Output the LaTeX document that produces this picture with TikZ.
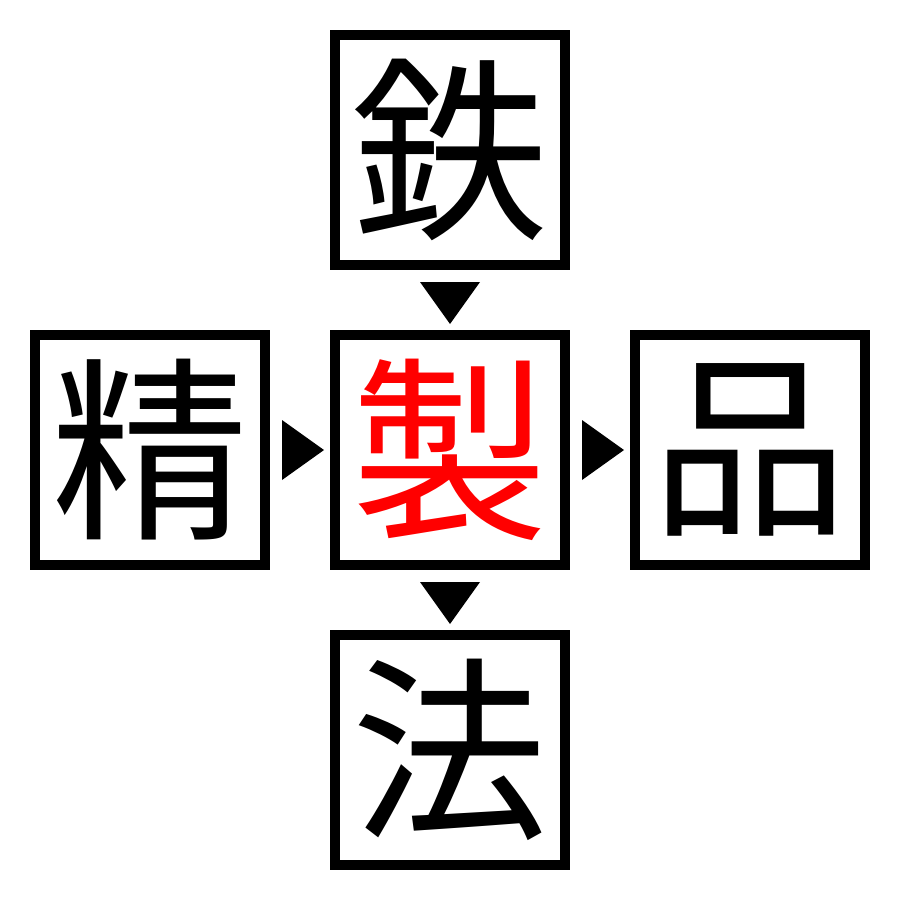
\documentclass[tikz,border=0pt]{standalone}
\usepackage{fontspec}
\newfontfamily\cjk{Noto Sans CJK JP}
\begin{document}
\begin{tikzpicture}[x=0.01cm,y=-0.01cm,
  kbox/.style={draw=black,line width=0.1cm,minimum width=2.3cm,minimum height=2.3cm,inner sep=0pt,font=\cjk\fontsize{56}{56}\selectfont},
  tri/.style={fill=black}]
\useasboundingbox (0,0) rectangle (900,900);
\node[kbox] (top) at (450,150) {鉄};
\node[kbox] (left) at (150,450) {精};
\node[kbox,text=red] (mid) at (450,450) {製};
\node[kbox] (right) at (750,450) {品};
\node[kbox] (bot) at (450,750) {法};
\fill[tri] (420,282) -- (480,282) -- (450,324) -- cycle;
\fill[tri] (420,582) -- (480,582) -- (450,624) -- cycle;
\fill[tri] (282,420) -- (282,480) -- (324,450) -- cycle;
\fill[tri] (582,420) -- (582,480) -- (624,450) -- cycle;
\end{tikzpicture}
\end{document}
